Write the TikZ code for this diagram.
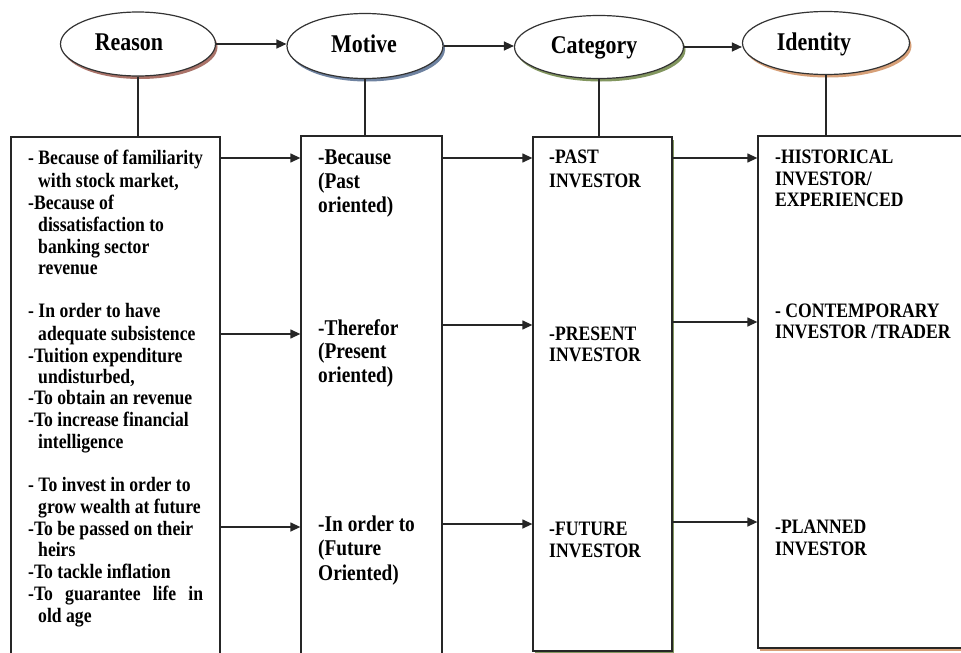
\documentclass[tikz,border=0pt]{standalone}
\usepackage{fontspec}
\newfontfamily\dfont{Liberation Serif}[FakeStretch=0.86]
\usetikzlibrary{shapes.geometric,arrows.meta,shadows}
\definecolor{shR}{RGB}{170,115,105}
\definecolor{shM}{RGB}{110,130,160}
\definecolor{shC}{RGB}{130,150,95}
\definecolor{shI}{RGB}{215,160,120}
\begin{document}
\begin{tikzpicture}[x=1pt,y=-1pt,
  conn/.style={draw=black!85, line width=1.3pt},
  arr/.style={conn,-{Triangle[length=10pt,width=9pt]}},
  oval/.style={ellipse, draw=black!80, line width=1.2pt, fill=white, inner sep=0pt},
  box/.style={rectangle, draw=black!85, line width=1.3pt, fill=white, inner sep=0pt},
  lab/.style={anchor=base, inner sep=0pt, font=\dfont\bfseries\fontsize{25.5}{27}\selectfont},
  txt/.style={anchor=base west, inner sep=0pt, font=\dfont\bfseries\fontsize{20.5}{22}\selectfont},
  mtxt/.style={anchor=base west, inner sep=0pt, font=\dfont\bfseries\fontsize{22.5}{24}\selectfont},
  shad/.style={drop shadow={shadow xshift=2pt,shadow yshift=-3pt,fill=#1,opacity=1}}]
\useasboundingbox (0,0) rectangle (961,653);
\clip (0,0) rectangle (961,653);
\fill[white] (0,0) rectangle (961,653);

% row levels
\coordinate (row1) at (0,158);
\coordinate (row2a) at (0,334);
\coordinate (row2b) at (0,325);
\coordinate (row2c) at (0,322);
\coordinate (row3a) at (0,527);
\coordinate (row3b) at (0,524);
\coordinate (row3c) at (0,522);

% ellipses
\node[oval, minimum width=155pt, minimum height=64pt, shad=shR] (reason) at (138,44) {};
\node[oval, minimum width=156pt, minimum height=65pt, shad=shM] (motive) at (365,46) {};
\node[oval, minimum width=169pt, minimum height=63pt, shad=shC] (category) at (599,47) {};
\node[oval, minimum width=167pt, minimum height=63pt, shad=shI] (identity) at (826,43) {};

\node[lab] (lreason) at (129,50) {Reason};
\node[lab] (lmotive) at (364,52) {Motive};
\node[lab] (lcategory) at (594,53) {Category};
\node[lab] (lidentity) at (814,50) {Identity};

% boxes
\node[box, minimum width=209pt, minimum height=533pt] (rbox) at (115.5,403.5) {};
\node[box, minimum width=141pt, minimum height=534pt] (mbox) at (371.5,403) {};
\node[box, minimum width=139pt, minimum height=514pt, shad=shC] (cbox) at (602.5,394) {};
\node[box, minimum width=212pt, minimum height=512pt, shad=shI] (ibox) at (864,392) {};

% vertical connectors
\draw[conn] (reason.south) -- (reason.south |- rbox.north);
\draw[conn] (motive.south) -- (motive.south |- mbox.north);
\draw[conn] (category.south) -- (category.south |- cbox.north);
\draw[conn] (identity.south) -- (identity.south |- ibox.north);

% top arrows
\draw[arr] (reason.east) -- (reason.east -| motive.west);
\draw[arr] (motive.east) -- (motive.east -| category.west);
\draw[arr] (category.east) -- (category.east -| identity.west);

% row arrows
\draw[arr] (rbox.east |- row1) -- (mbox.west |- row1);
\draw[arr] (mbox.east |- row1) -- (cbox.west |- row1);
\draw[arr] (cbox.east |- row1) -- (ibox.west |- row1);
\draw[arr] (rbox.east |- row2a) -- (mbox.west |- row2a);
\draw[arr] (mbox.east |- row2b) -- (cbox.west |- row2b);
\draw[arr] (cbox.east |- row2c) -- (ibox.west |- row2c);
\draw[arr] (rbox.east |- row3a) -- (mbox.west |- row3a);
\draw[arr] (mbox.east |- row3b) -- (cbox.west |- row3b);
\draw[arr] (cbox.east |- row3c) -- (ibox.west |- row3c);

% Reason texts
\node[txt] (r1) at (28,164) {- Because of familiarity};
\node[txt] (r2) at (38,187) {with stock market,};
\node[txt] (r3) at (28,209) {-Because of};
\node[txt] (r4) at (38,231) {dissatisfaction to};
\node[txt] (r5) at (38,253) {banking sector};
\node[txt] (r6) at (38,274) {revenue};
\node[txt] (r7) at (28,317) {- In order to have};
\node[txt] (r8) at (38,340) {adequate subsistence};
\node[txt] (r9) at (28,362) {-Tuition expenditure};
\node[txt] (r10) at (38,383) {undisturbed,};
\node[txt] (r11) at (28,404) {-To obtain an revenue};
\node[txt] (r12) at (28,426) {-To increase financial};
\node[txt] (r13) at (38,448) {intelligence};
\node[txt] (r14) at (28,491) {- To invest in order to};
\node[txt] (r15) at (38,513) {grow wealth at future};
\node[txt] (r16) at (28,535) {-To be passed on their};
\node[txt] (r17) at (38,556) {heirs};
\node[txt] (r18) at (28,578) {-To tackle inflation};
\node[txt] (r19) at (28,600) {\hbox to 175pt{-To\hfill guarantee\hfill life\hfill in}};
\node[txt] (r20) at (38,622) {old age};

% Motive texts
\node[mtxt] (m1) at (318,164) {-Because};
\node[mtxt] (m2) at (318,188) {(Past};
\node[mtxt] (m3) at (318,212) {oriented)};
\node[mtxt] (m4) at (318,335) {-Therefor};
\node[mtxt] (m5) at (318,358) {(Present};
\node[mtxt] (m6) at (318,382) {oriented)};
\node[mtxt] (m7) at (318,531) {-In order to};
\node[mtxt] (m8) at (318,555) {(Future};
\node[mtxt] (m9) at (318,580) {Oriented)};

% Category texts
\node[txt] (c1) at (549,163) {-PAST};
\node[txt] (c2) at (549,187) {INVESTOR};
\node[txt] (c3) at (549,340) {-PRESENT};
\node[txt] (c4) at (549,361) {INVESTOR};
\node[txt] (c5) at (549,535) {-FUTURE};
\node[txt] (c6) at (549,557) {INVESTOR};

% Identity texts
\node[txt] (i1) at (775,163) {-HISTORICAL};
\node[txt] (i2) at (775,185) {INVESTOR/};
\node[txt] (i3) at (775,206) {EXPERIENCED};
\node[txt] (i4) at (775,317) {- CONTEMPORARY};
\node[txt] (i5) at (775,338) {INVESTOR /TRADER};
\node[txt] (i6) at (775,533) {-PLANNED};
\node[txt] (i7) at (775,555) {INVESTOR};
\end{tikzpicture}
\end{document}
